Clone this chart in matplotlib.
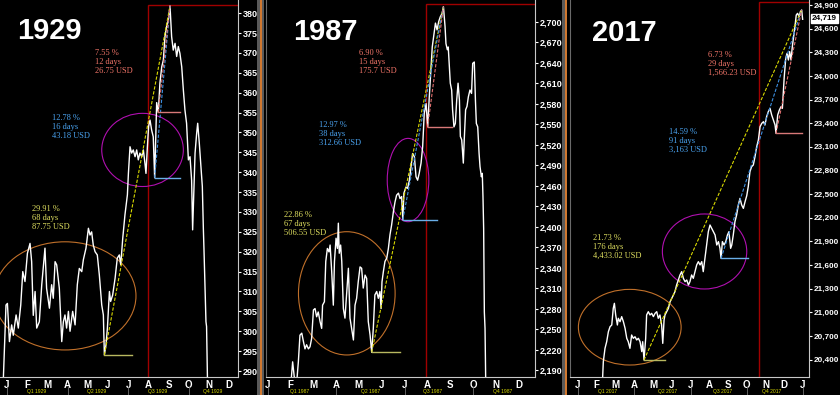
import matplotlib
matplotlib.use('Agg')
import matplotlib.pyplot as plt
from matplotlib.patches import Ellipse, Rectangle
import matplotlib.transforms as mtransforms

plt.rcParams['font.family'] = ['Liberation Sans', 'DejaVu Sans']

# ---------------- data (x = months since Jan 1 of the year) ----------------
months_1929 = [-0.21, -0.05, 0.02, 0.12, 0.23, 0.31, 0.45, 0.56, 0.68, 0.78, 0.89, 1.01, 1.14, 1.22, 1.30,
               1.39, 1.47, 1.60, 1.72, 1.88, 1.96, 2.10, 2.21, 2.29, 2.38, 2.46, 2.59, 2.71, 2.79, 2.87,
               2.95, 3.04, 3.12, 3.25, 3.37, 3.48, 3.58, 3.70, 3.78, 3.91, 4.03, 4.11, 4.19, 4.27, 4.36,
               4.47, 4.57, 4.69, 4.77, 4.82, 4.90, 4.97, 5.07, 5.13, 5.23, 5.35, 5.46, 5.56, 5.63, 5.73,
               5.84, 5.96, 6.01, 6.09, 6.17, 6.25, 6.34, 6.42, 6.50, 6.58, 6.67, 6.75, 6.83, 6.88, 6.95,
               7.01, 7.08, 7.16, 7.24, 7.31, 7.41, 7.49, 7.57, 7.66, 7.74, 7.82, 7.90, 7.99, 8.07, 8.15,
               8.23, 8.32, 8.40, 8.48, 8.56, 8.65, 8.73, 8.81, 8.89, 8.98, 9.06, 9.14, 9.19, 9.31, 9.39,
               9.44, 9.52, 9.59, 9.67, 9.72, 9.75, 9.85, 9.88, 9.95]
dow_1929 = [284, 306.6, 307, 297.4, 301.6, 299, 304.1, 300.8, 306.6, 315, 312.5, 319.6, 322.1, 317.5, 304,
            310, 300.8, 302.4, 311.7, 320.9, 310.8, 305.8, 311.7, 308.3, 317.5, 316.7, 310.8, 297.4, 302.4, 304.1,
            300.8, 305, 300, 305, 301.6, 311.7, 315.8, 315, 318, 320.9, 325.9, 324.2, 325, 321.7, 320,
            319.2, 314.2, 306.6, 304.1, 294.05, 296.6, 300.8, 310, 307.5, 309.1, 313.3, 318.4, 319.2, 316.7, 323.4,
            329.3, 334.3, 339.7, 346.4, 344.8, 345.6, 343.9, 345.6, 343.1, 344.8, 343.9, 345.6, 342.2, 339.7, 346.4,
            351.5, 353.1, 350.6, 348.9, 338.6, 357.5, 355.05, 362.4, 366.5, 368.2, 374.1, 376.6, 378.3, 381.8, 374.1,
            370.7, 372.4, 369.1, 371.6, 369.9, 366.5, 360.7, 355.6, 352.3, 343.1, 343.9, 338, 325.5, 344.8, 349.8,
            352.3, 347.3, 342.2, 336.4, 325.9, 320.9, 302.4, 301.2, 280]

months_1987 = [1.03, 1.10, 1.17, 1.28, 1.35, 1.42, 1.50, 1.57, 1.64, 1.71, 1.79, 1.86, 1.93, 2.01, 2.08,
               2.15, 2.22, 2.30, 2.37, 2.41, 2.49, 2.55, 2.62, 2.69, 2.74, 2.81, 2.88, 2.93, 3.00, 3.06,
               3.10, 3.14, 3.20, 3.25, 3.32, 3.39, 3.46, 3.54, 3.61, 3.68, 3.76, 3.83, 3.90, 3.97, 4.05,
               4.12, 4.19, 4.27, 4.34, 4.41, 4.49, 4.56, 4.63, 4.70, 4.78, 4.85, 4.92, 4.97, 5.01, 5.07,
               5.14, 5.22, 5.29, 5.36, 5.43, 5.51, 5.58, 5.65, 5.73, 5.80, 5.87, 5.92, 5.97, 6.06, 6.13,
               6.21, 6.28, 6.35, 6.43, 6.50, 6.57, 6.64, 6.72, 6.79, 6.86, 6.94, 7.01, 7.08, 7.16, 7.21,
               7.29, 7.35, 7.42, 7.49, 7.56, 7.64, 7.70, 7.77, 7.81, 7.87, 7.91, 7.96, 8.00, 8.06, 8.10,
               8.16, 8.22, 8.28, 8.34, 8.40, 8.44, 8.50, 8.57, 8.61, 8.67, 8.73, 8.79, 8.86, 8.93, 8.98,
               9.05, 9.10, 9.14, 9.20, 9.26, 9.30, 9.36, 9.40, 9.43, 9.46, 9.49, 9.52, 9.55]
dow_1987 = [2173, 2202, 2180, 2173, 2202, 2241, 2244, 2232, 2221, 2227, 2221, 2224, 2236, 2278, 2280,
            2268, 2275, 2261, 2251, 2285, 2290, 2349, 2368, 2363, 2373, 2334, 2285, 2349, 2383, 2368,
            2405, 2361, 2373, 2349, 2280, 2266, 2300, 2339, 2266, 2251, 2234, 2285, 2295, 2319, 2341,
            2339, 2310, 2329, 2324, 2261, 2241, 2216, 2251, 2300, 2305, 2295, 2305, 2280, 2319, 2334,
            2349, 2354, 2368, 2388, 2402, 2422, 2436, 2446, 2449, 2441, 2444, 2410, 2449, 2458, 2456,
            2468, 2488, 2507, 2502, 2473, 2468, 2478, 2493, 2517, 2566, 2580, 2546, 2590, 2634, 2663,
            2683, 2698, 2688, 2700, 2707, 2712, 2722, 2693, 2668, 2659, 2663, 2634, 2610, 2600, 2571,
            2546, 2551, 2585, 2610, 2585, 2532, 2527, 2493, 2527, 2571, 2576, 2590, 2600, 2595, 2639,
            2641, 2585, 2551, 2546, 2507, 2488, 2473, 2478, 2444, 2397, 2275, 2251, 2173]

months_2017 = [1.30, 1.35, 1.44, 1.53, 1.62, 1.71, 1.80, 1.88, 1.94, 2.01, 2.10, 2.15, 2.24, 2.33, 2.42,
               2.51, 2.60, 2.68, 2.77, 2.86, 2.95, 3.04, 3.13, 3.22, 3.31, 3.40, 3.45, 3.52, 3.61, 3.66,
               3.75, 3.84, 3.93, 4.02, 4.11, 4.20, 4.28, 4.37, 4.46, 4.52, 4.59, 4.64, 4.73, 4.82, 4.91,
               5.00, 5.09, 5.17, 5.26, 5.35, 5.44, 5.53, 5.62, 5.71, 5.80, 5.89, 5.97, 6.06, 6.15, 6.24,
               6.33, 6.42, 6.51, 6.60, 6.68, 6.77, 6.86, 6.95, 7.04, 7.13, 7.22, 7.31, 7.40, 7.49, 7.57,
               7.63, 7.70, 7.79, 7.88, 7.97, 8.05, 8.14, 8.20, 8.28, 8.37, 8.46, 8.55, 8.64, 8.73, 8.82,
               8.91, 9.00, 9.08, 9.17, 9.26, 9.35, 9.44, 9.53, 9.62, 9.71, 9.80, 9.89, 9.97, 10.06, 10.15,
               10.24, 10.33, 10.42, 10.51, 10.56, 10.65, 10.74, 10.83, 10.90, 10.95, 11.00, 11.08, 11.15, 11.22, 11.29,
               11.36, 11.43, 11.50, 11.57, 11.64, 11.71, 11.79, 11.86, 11.93, 11.98]
dow_2017 = [20100, 20374, 20543, 20627, 20754, 20818, 20839, 21050, 21114, 20966, 20839, 20924, 20881, 20945, 20881,
            20797, 20670, 20627, 20543, 20712, 20670, 20690, 20649, 20670, 20627, 20501, 20627, 20395, 20670, 20966,
            21008, 20966, 20987, 20945, 20987, 21008, 20924, 20966, 20839, 20606, 20903, 20966, 21008, 21050, 21135,
            21177, 21220, 21262, 21347, 21410, 21474, 21516, 21431, 21389, 21410, 21347, 21389, 21474, 21431, 21516,
            21601, 21643, 21601, 21643, 21516, 21685, 21854, 22023, 22108, 22066, 22023, 21981, 21854, 21897, 21812,
            21685, 21897, 21854, 21897, 21981, 22023, 21812, 21854, 21981, 22150, 22235, 22362, 22446, 22362, 22319,
            22404, 22480, 22595, 22785, 22848, 22870, 22975, 23102, 23187, 23356, 23398, 23419, 23377, 23483, 23546,
            23589, 23504, 23441, 23377, 23271, 23504, 23568, 23610, 23589, 23779, 23991, 24223, 24287, 24202, 24308,
            24202, 24371, 24498, 24625, 24773, 24794, 24752, 24815, 24837, 24719]

month_letters = ['J', 'F', 'M', 'A', 'M', 'J', 'J', 'A', 'S', 'O', 'N', 'D', 'J']

# swing points (month, price): yellow low, blue low, red low, peak
swings_1929 = {'yellow': (4.82, 294.05), 'blue': (7.31, 338.6), 'red': (7.49, 355.05), 'peak': (8.07, 381.8)}
swings_1987 = {'yellow': (4.56, 2216), 'blue': (5.92, 2410), 'red': (7.01, 2546), 'peak': (7.70, 2722)}
swings_2017 = {'yellow': (3.52, 20395), 'blue': (7.63, 21685), 'red': (10.56, 23271), 'peak': (11.93, 24837)}

labels_1929 = {'red': ['7.55 %', '12 days', '26.75 USD'],
               'blue': ['12.78 %', '16 days', '43.18 USD'],
               'yellow': ['29.91 %', '68 days', '87.75 USD']}
labels_1987 = {'red': ['6.90 %', '15 days', '175.7 USD'],
               'blue': ['12.97 %', '38 days', '312.66 USD'],
               'yellow': ['22.86 %', '67 days', '506.55 USD']}
labels_2017 = {'red': ['6.73 %', '29 days', '1,566.23 USD'],
               'blue': ['14.59 %', '91 days', '3,163 USD'],
               'yellow': ['21.73 %', '176 days', '4,433.02 USD']}

yticks_1929 = list(range(290, 381, 5))
yticks_1987 = list(range(2190, 2701, 30))
yticks_2017 = list(range(20400, 24901, 300))
last_2017 = 24719

# ---------------- figure ----------------
W, H = 840, 395
fig = plt.figure(figsize=(W / 100, H / 100), dpi=100, facecolor='black')

TXT = {'red': '#f07468', 'blue': '#4aa3f0', 'yellow': '#e0e060'}
TREND = {'red': '#e07070', 'blue': '#3c8fe0', 'yellow': '#d8d800'}
STUB = {'red': '#d87878', 'blue': '#6aaee8', 'yellow': '#b8b860'}
PLOT_BOTTOM = 377

panels = [
    dict(year='1929', x0=0, x1=238, xlim=(-0.347, 11.436), ylim=(288.5, 383.3),
         m=months_1929, p=dow_1929, yt=yticks_1929, fmt='{:d}', nmonths=12, yfs=6.5,
         sw=swings_1929, lab=labels_1929, left_spine=False,
         stub_end={'yellow': 6.17, 'blue': 8.56, 'red': 8.56},
         ell_orange=((2.87, 308.9), 7.03, 27.2), ell_mag=((6.71, 345.6), 4.04, 18.4),
         rect=(6.98, 382.0), quarters=[1.45, 4.45, 7.45, 10.2],
         title_xy=(17, 31), txt_pos={'red': (95, 53), 'blue': (52, 118), 'yellow': (32, 209)}),
    dict(year='1987', x0=266, x1=535, xlim=(-0.066, 11.707), ylim=(2179.8, 2731.8),
         m=months_1987, p=dow_1987, yt=yticks_1987, fmt='{:,d}', nmonths=12, yfs=6.5,
         sw=swings_1987, lab=labels_1987, left_spine=True,
         stub_end={'yellow': 5.80, 'blue': 7.40, 'red': 8.06},
         ell_orange=((3.47, 2302.3), 4.23, 180.5), ell_mag=((6.15, 2468.2), 1.82, 122),
         rect=(6.92, 2725.5), quarters=[1.42, 4.49, 7.24, 10.3],
         title_xy=(293, 32), txt_pos={'red': (359, 53), 'blue': (319, 125), 'yellow': (284, 215)}),
    dict(year='2017', x0=570, x1=809, xlim=(-0.427, 12.32), ylim=(20179, 24963.5),
         m=months_2017, p=dow_2017, yt=yticks_2017, fmt='{:,d}', nmonths=13, yfs=5.9,
         sw=swings_2017, lab=labels_2017, left_spine=True,
         stub_end={'yellow': 4.64, 'blue': 9.08, 'red': 11.93},
         ell_orange=((2.76, 20811), 5.48, 960), ell_mag=((6.75, 21772), 4.50, 952),
         rect=(9.65, 24934), quarters=[1.55, 4.8, 7.7, 10.3],
         title_xy=(592, 33), txt_pos={'red': (708, 55), 'blue': (669, 132), 'yellow': (593, 238)}),
]

for P in panels:
    ax = fig.add_axes([P['x0'] / W, 1 - PLOT_BOTTOM / H, (P['x1'] - P['x0']) / W, PLOT_BOTTOM / H])
    ax.set_facecolor('black')
    ax.set_xlim(*P['xlim'])
    ax.set_ylim(*P['ylim'])

    # red rectangle (last period)
    rx, rtop = P['rect']
    ax.add_patch(Rectangle((rx, P['ylim'][0] - 1000), P['xlim'][1] - rx + 1, rtop - P['ylim'][0] + 1000,
                           fill=False, ec='#a00000', lw=1.0, zorder=1))

    # ellipses
    c, w, h = P['ell_orange']
    ax.add_patch(Ellipse(c, w, h, fill=False, ec='#c0702a', lw=0.8, zorder=2))
    c, w, h = P['ell_mag']
    ax.add_patch(Ellipse(c, w, h, fill=False, ec='#b010b0', lw=0.8, zorder=2))

    # price
    ax.plot(P['m'], P['p'], color='white', lw=1.0, zorder=3)

    # trend lines and stubs
    pk = P['sw']['peak']
    for key in ['yellow', 'blue', 'red']:
        lx, ly = P['sw'][key]
        ax.plot([lx, pk[0]], [ly, pk[1]], color=TREND[key], lw=0.8, ls=(0, (3, 1.5)), zorder=4)
        ax.plot([lx, P['stub_end'][key]], [ly, ly], color=STUB[key], lw=1.0, zorder=4)

    # axes styling
    ax.yaxis.tick_right()
    ax.set_yticks(P['yt'])
    ax.set_yticklabels([P['fmt'].format(v) for v in P['yt']], fontweight='bold')
    ax.tick_params(axis='y', colors='white', labelsize=P['yfs'], length=2.5, width=0.8, pad=0.8)
    ax.set_xticks(range(P['nmonths']))
    ax.set_xticklabels(month_letters[:P['nmonths']], fontweight='bold')
    ax.tick_params(axis='x', colors='white', labelsize=7, length=0, pad=2.5)
    ax.spines['top'].set_visible(False)
    ax.spines['left'].set_visible(P['left_spine'])
    ax.spines['left'].set_color('#6a6a6a')
    ax.spines['right'].set_color('#c8c8c8')
    ax.spines['bottom'].set_color('#c8c8c8')

    tr = mtransforms.blended_transform_factory(ax.transData, ax.transAxes)
    yr = P['year']
    for i, qx in enumerate(P['quarters']):
        ax.text(qx, -(391.5 - PLOT_BOTTOM) / PLOT_BOTTOM, f'Q{i + 1} {yr}', transform=tr,
                ha='center', va='center', fontsize=3.6, color='#d8d800', clip_on=False)
    for qs in range(0, P['nmonths'] + 1, 3):
        if P['xlim'][0] <= qs <= P['xlim'][1]:
            ax.plot([qs, qs], [-(387 - PLOT_BOTTOM) / PLOT_BOTTOM, -(395 - PLOT_BOTTOM) / PLOT_BOTTOM],
                    transform=tr, color='#707070', lw=0.6, clip_on=False)

    # big year title
    tx, ty = P['title_xy']
    fig.text(tx / W, 1 - ty / H, yr, fontsize=21, fontweight='bold', color='white',
             ha='left', va='center')

    # annotation texts
    for key in ['red', 'blue', 'yellow']:
        px, py = P['txt_pos'][key]
        for j, line in enumerate(P['lab'][key]):
            fig.text(px / W, 1 - (py + 9 * j) / H, line, fontsize=6, color=TXT[key],
                     family='Liberation Serif', ha='left', va='center')

# separators between panels
for xs, xe in [(257, 264), (562, 567)]:
    fig.add_artist(Rectangle((xs / W, 0), (xe - xs) / W, 1, transform=fig.transFigure,
                             facecolor='#5a5a5a', edgecolor='none'))
    fig.add_artist(Rectangle(((xs + 2.5) / W, 0), 2.5 / W, 1, transform=fig.transFigure,
                             facecolor='#d07830', edgecolor='none'))

# last price box
fig.text(812 / W, 1 - 18.5 / H, f'{last_2017:,d}', fontsize=5.9, fontweight='bold', color='black',
         ha='left', va='center',
         bbox=dict(facecolor='white', edgecolor='white', boxstyle='square,pad=0.12'))

fig.savefig('out.png', dpi=100, facecolor='black')
